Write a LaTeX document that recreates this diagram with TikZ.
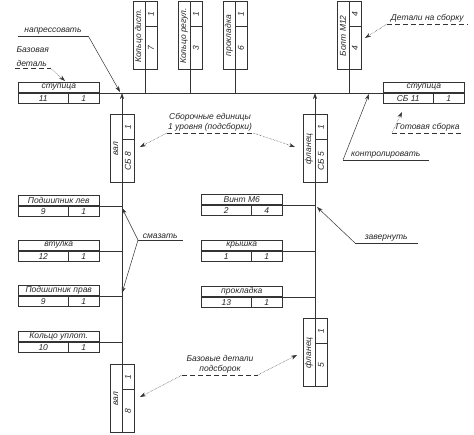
\documentclass[tikz,border=0pt]{standalone}
\usepackage{fontspec}
\setmainfont{Liberation Sans}
\usetikzlibrary{arrows.meta,calc}

% one part: title row, then number | quantity
\newcommand{\detal}[6][]{%
	\begin{scope}[shift={#3},#1]
		\node[titlecell] (#2) at (0,0) {#4};
		\node[numcell] (#2n) at (#2.south west) {#5};
		\node[qtycell] (#2q) at (#2.south east) {#6};
	\end{scope}}

\begin{document}
\begin{tikzpicture}[x=1pt, y=-1pt, line width=.5pt, draw=black!80, text=black!85,
	font=\fontsize{8.5}{10}\selectfont\itshape,
	cell/.style={draw, inner sep=0pt, minimum height=10.5pt},
	titlecell/.style={cell, anchor=north west, minimum width=81pt},
	numcell/.style={cell, anchor=north west, minimum width=50pt},
	qtycell/.style={cell, anchor=north east, minimum width=31pt},
	vert/.style={rotate=90, transform shape,
		cell/.append style={minimum height=11.5pt},
		titlecell/.append style={minimum width=68pt},
		numcell/.append style={minimum width=43pt},
		qtycell/.append style={minimum width=25pt}},
	label/.style={inner sep=1pt, align=center},
	uline/.style={},
	dline/.style={dash pattern=on 5pt off 3pt},
	lead/.style={-{Stealth[length=6pt,width=4pt]}},
	note/.style={densely dotted, -{Stealth[length=6pt,width=4pt]}}]
	\useasboundingbox (0,0) rectangle (474,435);
	%parts
	\detal{stup}{(18,82)}{ступица}{11}{1}
	\detal{stupsb}{(383,82)}{ступица}{СБ 11}{1}
	\detal[vert]{kd}{(133,70)}{Кольцо дист.}{7}{1}
	\detal[vert]{kreg}{(178,70)}{Кольцо регул.}{3}{1}
	\detal[vert]{prk}{(223,70)}{прокладка}{6}{1}
	\detal[vert]{bolt}{(337,70)}{Болт М12}{4}{4}
	\detal[vert]{valsb}{(110,183)}{вал}{СБ 8}{1}
	\detal[vert]{flsb}{(303,183)}{фланец}{СБ 5}{1}
	\detal{pl}{(18,195)}{Подшипник лев}{9}{1}
	\detal{vt}{(18,240)}{втулка}{12}{1}
	\detal{pp}{(18,285)}{Подшипник прав}{9}{1}
	\detal{ku}{(18,331)}{Кольцо уплот.}{10}{1}
	\detal{vint}{(201,194)}{Винт М6}{2}{4}
	\detal{kr}{(201,240)}{крышка}{1}{1}
	\detal{pr}{(201,286)}{прокладка}{13}{1}
	\detal[vert]{val}{(110,433)}{вал}{8}{1}
	\detal[vert]{fl}{(303,387)}{фланец}{5}{1}
	%main line
	\draw (stup.south east) -- (stupsb.south west);
	\foreach \p in {kd,kreg,prk,bolt}
	\draw (\p.south west) -- (\p.south west |- stup.south east);
	\foreach \p in {valsb,flsb}
	\draw[lead] (\p.south east) -- (\p.south east |- stup.south east);
	%subassemblies
	\draw (valsb.south west) -- (val.south east);
	\draw (flsb.south west) -- (fl.south east);
	\foreach \p in {pl,vt,pp,ku}
	\draw (\p.south east) -- (\p.south east -| valsb.south west);
	\foreach \p in {vint,kr,pr}
	\draw (\p.south east) -- (\p.south east -| flsb.south west);
	%targets
	\coordinate (tpress) at (120,92);
	\coordinate (tbase) at (65,81);
	\coordinate (tparts) at (365,38);
	\coordinate (tready) at (402,112);
	\coordinate (tcontrol) at (369,94);
	\coordinate (tsubl) at (140,147);
	\coordinate (tsubr) at (295,147);
	\coordinate (tgreaseu) at (122,208);
	\coordinate (tgreased) at (122,293);
	\coordinate (tscrew) at (317,207);
	\coordinate (tbasel) at (140,397);
	\coordinate (tbaser) at (297,355);
	%labels
	\node[label, anchor=south, minimum width=70pt] (lpress) at (53,36) {напрессовать};
	\node[label, anchor=south west, minimum width=35pt, align=left,
		font=\fontsize{8.5}{14}\selectfont\itshape] (lbase) at (15,68) {Базовая\\деталь};
	\node[label, anchor=south west, minimum width=80pt] (lparts) at (387,24) {Детали на сборку};
	\node[label, anchor=south west, minimum width=71pt] (lready) at (392,133) {Готовая сборка};
	\node[label, anchor=south west, minimum width=85pt] (lcontrol) at (343,160) {контролировать};
	\node[label, anchor=south, minimum width=85pt] (lsub) at (210,133) {Сборочные единицы\\1 уровня (подсборки)};
	\node[label, anchor=south west, minimum width=44pt] (lgrease) at (138,240) {смазать};
	\node[label, anchor=south west, minimum width=62pt] (lscrew) at (355,243) {завернуть};
	\node[label, anchor=south, minimum width=75pt] (lbasesub) at (220,375) {Базовые детали\\подсборок};
	%underlines
	\foreach \l in {lpress,lcontrol,lgrease,lscrew}
	\draw[uline] (\l.south west) -- (\l.south east);
	\foreach \l in {lbase,lparts,lready,lsub,lbasesub}
	\draw[dline] (\l.south west) -- (\l.south east);
	%leaders
	\draw[lead] (lpress.south east) -- (tpress);
	\draw[lead] (lcontrol.south west) -- (tcontrol);
	\draw[lead] (lgrease.south west) -- (tgreaseu);
	\draw[lead] (lgrease.south west) -- (tgreased);
	\draw[lead] (lscrew.south west) -- (tscrew);
	\draw[note] (lbase.south east) -- (tbase);
	\draw[note] (lparts.south west) -- (tparts);
	\draw[note] (lready.south west) -- (tready);
	\draw[note] (lsub.south west) -- (tsubl);
	\draw[note] (lsub.south east) -- (tsubr);
	\draw[note] (lbasesub.south west) -- (tbasel);
	\draw[note] (lbasesub.south east) -- (tbaser);
\end{tikzpicture}
\end{document}
